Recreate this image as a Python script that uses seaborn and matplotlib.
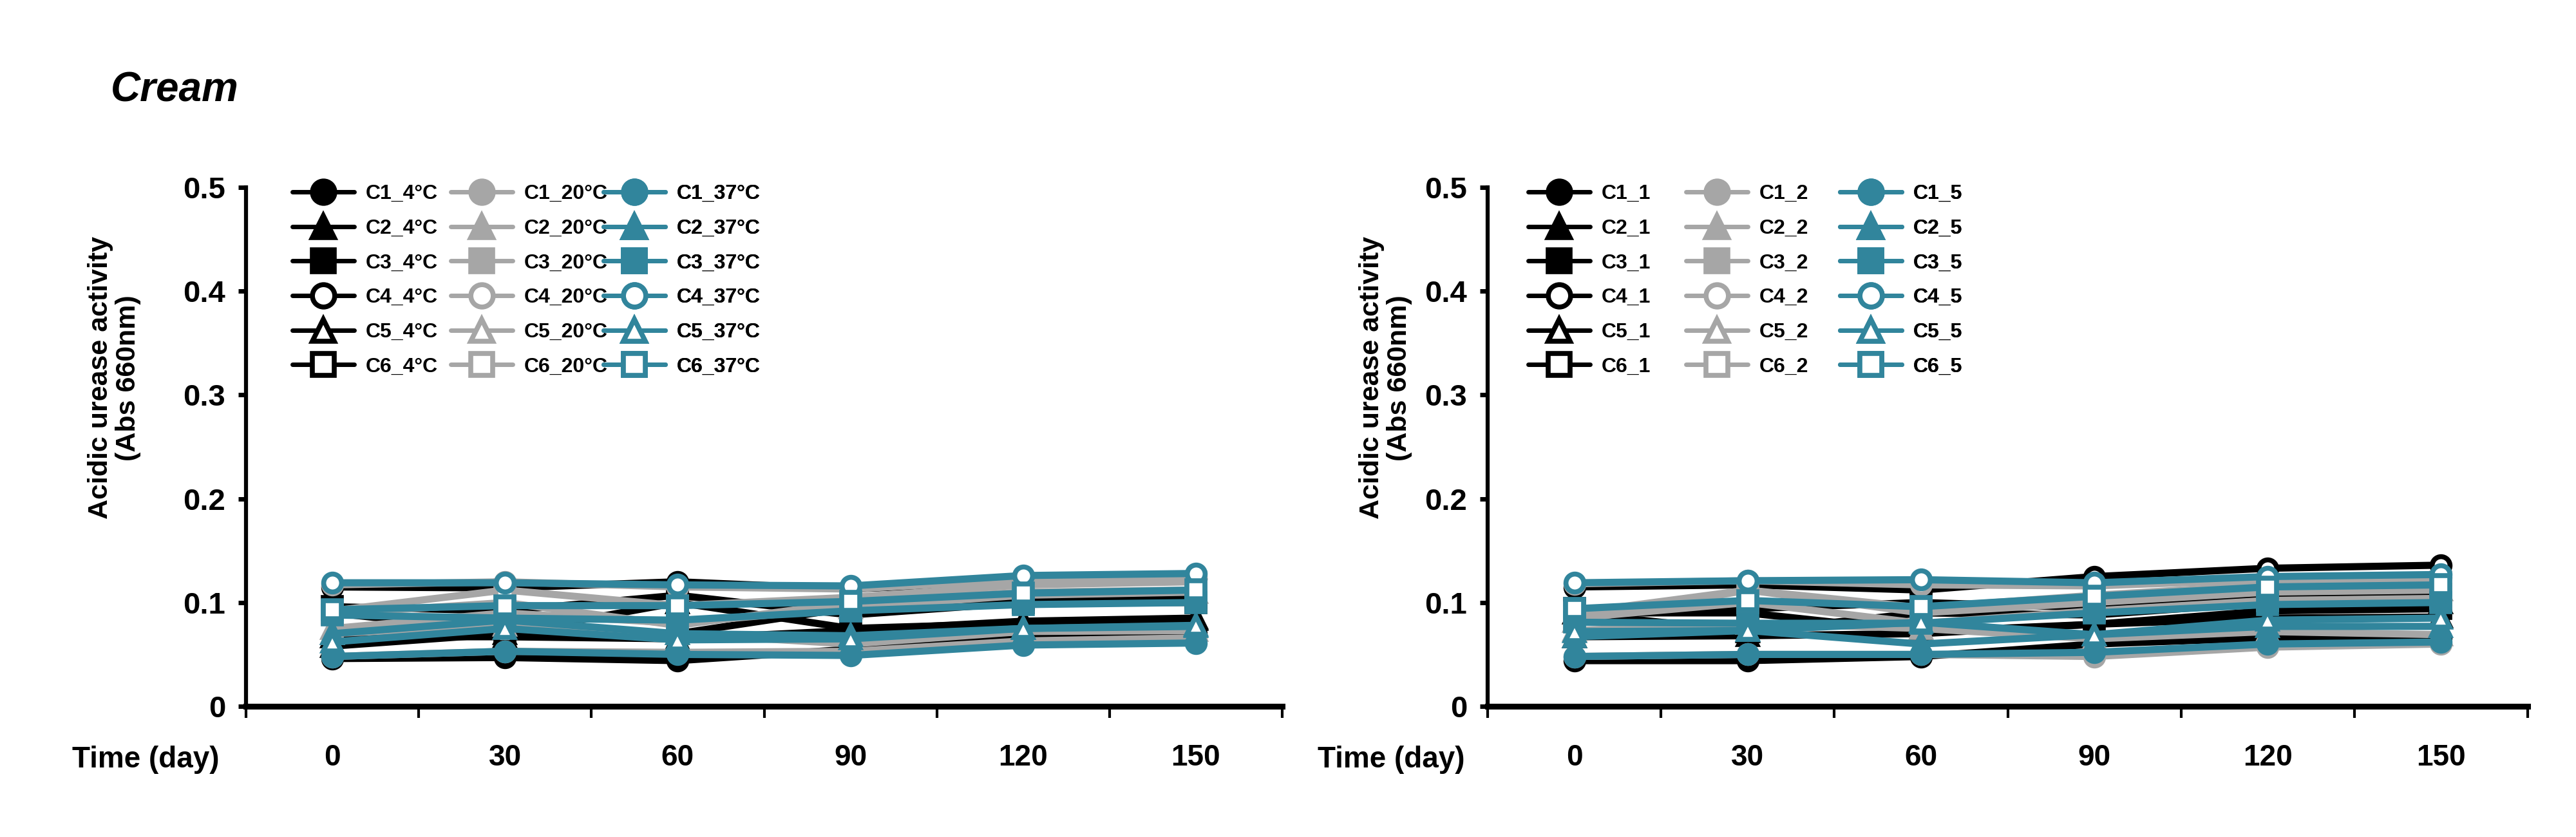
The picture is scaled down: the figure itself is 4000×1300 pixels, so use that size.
import numpy as np
import pandas as pd
import matplotlib.pyplot as plt
import seaborn as sns
from matplotlib.lines import Line2D

sns.set_style("ticks")
plt.rcParams['font.family'] = ['Liberation Sans', 'DejaVu Sans']
plt.rcParams['font.weight'] = 'bold'
for key in ['text.color', 'axes.labelcolor', 'xtick.color', 'ytick.color', 'axes.edgecolor']:
    plt.rcParams[key] = 'black'

# x axis
days = [0, 30, 60, 90, 120, 150]
day_labels = ['0', '30', '60', '90', '120', '150']
day_edges = [-15, 15, 45, 75, 105, 135, 165]
y_ticks = [0, 0.1, 0.2, 0.3, 0.4, 0.5]
y_tick_labels = ['0', '0.1', '0.2', '0.3', '0.4', '0.5']
samples = ['C1', 'C2', 'C3', 'C4', 'C5', 'C6']

# left panel: storage temperature (rows = C1..C6, values per day)
temp_labels = ['4°C', '20°C', '37°C']
temp_4c = [
    [0.046, 0.047, 0.044, 0.055, 0.066, 0.070],
    [0.067, 0.067, 0.065, 0.073, 0.082, 0.085],
    [0.090, 0.072, 0.070, 0.095, 0.103, 0.105],
    [0.115, 0.114, 0.120, 0.113, 0.120, 0.123],
    [0.058, 0.070, 0.100, 0.075, 0.080, 0.084],
    [0.096, 0.092, 0.107, 0.088, 0.100, 0.100],
]
temp_20c = [
    [0.048, 0.053, 0.052, 0.053, 0.063, 0.066],
    [0.070, 0.078, 0.070, 0.060, 0.072, 0.073],
    [0.089, 0.100, 0.078, 0.100, 0.110, 0.112],
    [0.117, 0.120, 0.115, 0.113, 0.122, 0.125],
    [0.075, 0.090, 0.080, 0.095, 0.107, 0.110],
    [0.092, 0.112, 0.097, 0.105, 0.117, 0.120],
]
temp_37c = [
    [0.048, 0.053, 0.050, 0.049, 0.059, 0.061],
    [0.070, 0.083, 0.070, 0.068, 0.075, 0.077],
    [0.088, 0.085, 0.083, 0.092, 0.098, 0.100],
    [0.119, 0.119, 0.117, 0.116, 0.126, 0.128],
    [0.062, 0.075, 0.064, 0.065, 0.075, 0.078],
    [0.093, 0.097, 0.097, 0.101, 0.109, 0.112],
]

# right panel: level 1 / 2 / 5
level_labels = ['1', '2', '5']
level_1 = [
    [0.044, 0.044, 0.048, 0.060, 0.066, 0.066],
    [0.067, 0.068, 0.070, 0.079, 0.085, 0.086],
    [0.090, 0.090, 0.072, 0.079, 0.092, 0.094],
    [0.115, 0.117, 0.112, 0.125, 0.133, 0.136],
    [0.090, 0.072, 0.090, 0.088, 0.100, 0.100],
    [0.094, 0.094, 0.100, 0.095, 0.105, 0.108],
]
level_2 = [
    [0.048, 0.050, 0.050, 0.048, 0.057, 0.060],
    [0.073, 0.080, 0.075, 0.065, 0.072, 0.069],
    [0.085, 0.100, 0.080, 0.092, 0.102, 0.104],
    [0.118, 0.121, 0.117, 0.116, 0.122, 0.124],
    [0.082, 0.112, 0.090, 0.100, 0.110, 0.112],
    [0.090, 0.112, 0.095, 0.107, 0.117, 0.120],
]
level_5 = [
    [0.048, 0.050, 0.050, 0.052, 0.060, 0.062],
    [0.067, 0.073, 0.060, 0.069, 0.077, 0.077],
    [0.081, 0.080, 0.080, 0.090, 0.098, 0.100],
    [0.119, 0.121, 0.122, 0.119, 0.125, 0.127],
    [0.072, 0.073, 0.081, 0.069, 0.083, 0.085],
    [0.094, 0.102, 0.096, 0.106, 0.115, 0.117],
]

colors = ['#000000', '#A6A6A6', '#31859C']
markers = ['o', '^', 's', 'o', '^', 's']
hollow = [False, False, False, True, True, True]

MS = 20
MEW = 5.5
LW = 8


def draw_panel(ax, groups, suffixes, leg_x, ylab_x):
    for g, (vals, suf) in enumerate(zip(groups, suffixes)):
        col = colors[g]
        handles = []
        for i, series in enumerate(vals):
            face = 'white' if hollow[i] else col
            sns.lineplot(x=days, y=series, ax=ax, color=col, linewidth=LW,
                         marker=markers[i], markersize=MS, markerfacecolor=face,
                         markeredgecolor=col, markeredgewidth=MEW, legend=False)
            handles.append(Line2D([], [], color=col, lw=5, marker=markers[i],
                                  markersize=MS * 1.25, markerfacecolor=face,
                                  markeredgecolor=col, markeredgewidth=MEW))
        labels = [f"{s}_{suf}" for s in samples]
        leg = ax.legend(handles, labels, loc='upper left', bbox_to_anchor=(leg_x[g], 1.006),
                        frameon=False, borderpad=0, borderaxespad=0, handlelength=3,
                        handletextpad=0.55, labelspacing=0.74,
                        prop={'weight': 'bold', 'size': 23})
        ax.add_artist(leg)

    ax.set_xlim(-15, 165)
    ax.set_ylim(0, 0.5)
    ax.set_xticks(day_edges)
    ax.set_xticklabels([])
    ax.set_xticks(days, minor=True)
    ax.set_xticklabels(day_labels, minor=True)
    ax.set_yticks(y_ticks)
    ax.set_yticklabels(y_tick_labels)
    ax.tick_params(axis='x', which='major', length=13, width=3, direction='out')
    ax.tick_params(axis='x', which='minor', length=0, pad=42, labelsize=33)
    ax.tick_params(axis='y', length=9, width=5, pad=14, labelsize=34)
    for t in ax.get_xticklabels(minor=True) + ax.get_yticklabels():
        t.set_fontweight('bold')
    sns.despine(ax=ax)
    ax.spines['left'].set_linewidth(4.5)
    ax.spines['bottom'].set_linewidth(6.5)
    ax.set_xlabel('')
    ax.set_ylabel('')
    ax.text(ylab_x, 0.633, 'Acidic urease activity\n(Abs 660nm)', transform=ax.transAxes,
            rotation=90, ha='center', va='center', multialignment='center',
            fontsize=31, fontweight='bold', linespacing=1.1)


fig = plt.figure(figsize=(40, 13), dpi=100)
ax1 = fig.add_axes([0.0955, 0.15615, 0.40225, 0.62])
ax2 = fig.add_axes([0.5775, 0.15615, 0.40375, 0.62])

draw_panel(ax1, [temp_4c, temp_20c, temp_37c], temp_labels, [0.0447, 0.1976, 0.345], -0.127)
draw_panel(ax2, [level_1, level_2, level_5], level_labels, [0.039, 0.191, 0.3387], -0.098)

fig.text(0.043, 0.8785, 'Cream', ha='left', va='baseline', fontsize=46,
         fontweight='bold', fontstyle='italic')
fig.text(0.08525, 0.0831, 'Time (day)', ha='right', va='baseline', fontsize=33, fontweight='bold')
fig.text(0.5685, 0.0831, 'Time (day)', ha='right', va='baseline', fontsize=33, fontweight='bold')

plt.savefig("out.png", dpi=100)
